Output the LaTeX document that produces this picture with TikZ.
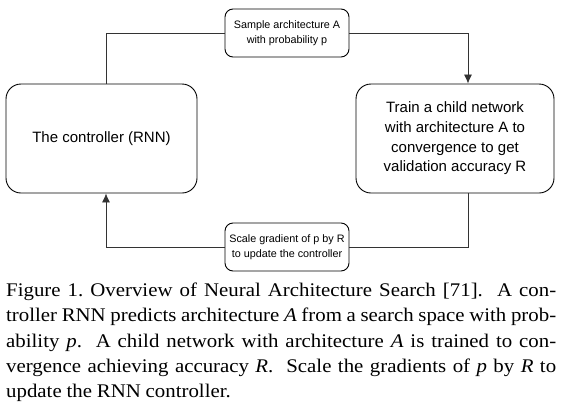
\documentclass[tikz,border=0pt]{standalone}
\usepackage{fontspec}
\setmainfont[FakeStretch=1.08]{Liberation Serif}
\setsansfont{Liberation Sans}
\usepackage{tikz}
\usetikzlibrary{arrows.meta,positioning,calc}

\begin{document}
\begin{tikzpicture}[
  x=1pt, y=-1pt, font=\sffamily, >={Latex[length=9pt,width=8pt]},
  stage/.style={draw, line width=0.9pt, rounded corners=15pt, fill=white,
    minimum width=191pt, minimum height=109pt, align=center,
    font=\sffamily\fontsize{15}{19.7}\selectfont},
  edgelabel/.style={draw, line width=0.9pt, rounded corners=8pt, fill=white,
    minimum width=124pt, minimum height=48pt, inner sep=1pt, align=center,
    font=\sffamily\fontsize{10.8}{14.5}\selectfont},
  loop/.style={line width=0.8pt, draw=black!80}
]
\useasboundingbox (0,0) rectangle (564,410);
\node[stage] (ctrl) at (101.5,138.5) {The controller (RNN)};
\node[stage, minimum width=198pt] (child) at (455,138.5)
  {Train a child network\\with architecture A to\\convergence to get\\validation accuracy R};
\node[edgelabel] (sample) at (287,33) {Sample architecture A\\with probability p};
\node[edgelabel] (update) at (287,247) {Scale gradient of p by R\\to update the controller};

\draw[loop] ([xshift=4.5pt]ctrl.north) |- (sample.west);
\draw[loop,->] (sample.east) -| ([xshift=13pt]child.north);
\draw[loop] ([xshift=13pt]child.south) |- (update.east);
\draw[loop,->] (update.west) -| ([xshift=4.5pt]ctrl.south);

% figure caption
\node[anchor=north west, inner sep=0pt, text width=550pt, align=justify,
  font=\rmfamily\fontsize{19.3}{25.2}\selectfont] (caption) at (6,283)
  {\noindent\spaceskip=.25em plus .4em minus .1em
  Figure 1.\ Overview of Neural Architecture Search [71].\ \ A con-\linebreak
  troller RNN predicts architecture \textit{A} from a search space with prob-\linebreak
  ability \textit{p}.\ \ A child network with architecture \textit{A} is trained to con-\linebreak
  vergence achieving accuracy \textit{R}.\ \ Scale the gradients of \textit{p} by \textit{R} to\linebreak
  update the RNN controller.};
\end{tikzpicture}
\end{document}
